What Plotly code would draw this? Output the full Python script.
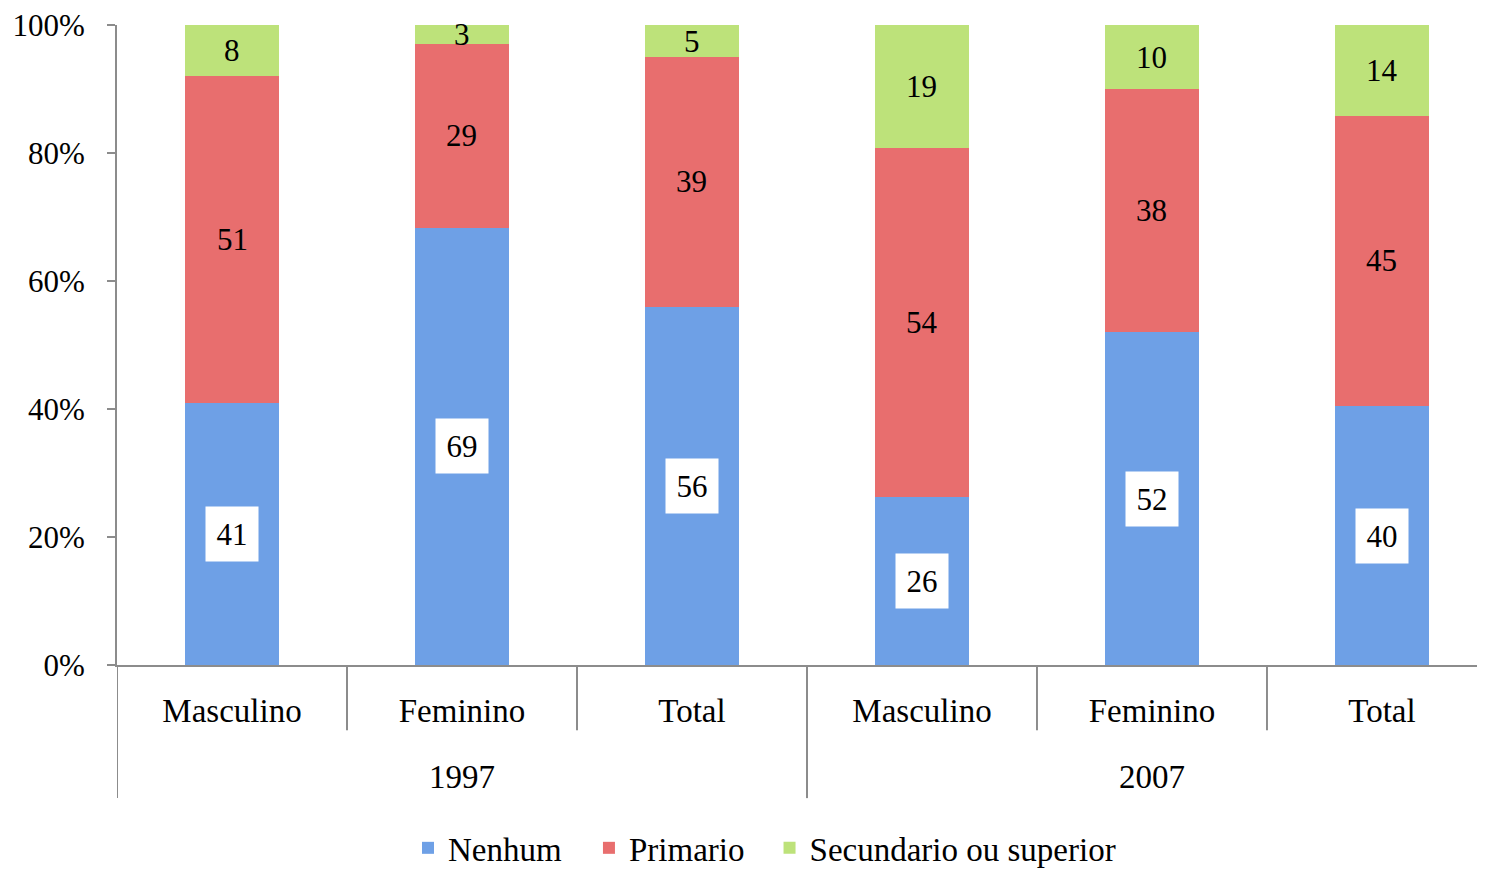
import plotly.graph_objects as go

years = ["1997", "1997", "1997", "2007", "2007", "2007"]
groups = ["Masculino", "Feminino", "Total", "Masculino", "Feminino", "Total"]
nenhum = [41, 69, 56, 26, 52, 40]
primario = [51, 29, 39, 54, 38, 45]
secundario = [8, 3, 5, 19, 10, 14]

series = [
    ("Nenhum", nenhum, "#6ea0e6", True),
    ("Primario", primario, "#e86e6e", False),
    ("Secundario ou superior", secundario, "#bde27a", False),
]
legend_x = [0.2127, 0.345, 0.477]

cats = [f"{y} {g}" for y, g in zip(years, groups)]

FONT = "Liberation Serif"
AXIS_COLOR = "#8c8c8c"
fig = go.Figure()
legend_names = ["legend", "legend2", "legend3"]
for (name, vals, color, _), lg in zip(series, legend_names):
    fig.add_trace(go.Bar(
        x=cats, y=vals, name=name, legend=lg,
        marker=dict(color=color, line=dict(width=0)),
        hoverinfo="skip",
    ))

# data labels at the centre of each (normalised) segment
totals = [a + b + c for a, b, c in zip(nenhum, primario, secundario)]
annotations = []
base = [0.0] * len(cats)
for name, vals, color, boxed in series:
    for i, (c, v, t) in enumerate(zip(cats, vals, totals)):
        share = v / t * 100
        ann = dict(
            x=c, y=base[i] + share / 2, xref="x", yref="y",
            text=str(v), showarrow=False,
            font=dict(family=FONT, size=31, color="black"),
        )
        if boxed:
            ann.update(bgcolor="white", borderpad=6, width=40, height=42)
        annotations.append(ann)
        base[i] += share

# year group labels and dividers
unique_years = []
for y in years:
    if y not in unique_years:
        unique_years.append(y)
shapes = []
for y in unique_years:
    idx = [i for i, yy in enumerate(years) if yy == y]
    mid = (idx[0] + idx[-1]) / 2
    annotations.append(dict(
        x=mid, y=-0.175, xref="x", yref="paper", text=y, showarrow=False,
        font=dict(family=FONT, size=33, color="black"), yanchor="middle",
    ))
    shapes.append(dict(type="line", xref="x", yref="paper",
                       x0=idx[0] - 0.5, x1=idx[0] - 0.5, y0=0, y1=-0.208,
                       line=dict(color=AXIS_COLOR, width=2)))
for i in range(1, len(cats)):
    if years[i] == years[i - 1]:
        shapes.append(dict(type="line", xref="x", yref="paper",
                           x0=i - 0.5, x1=i - 0.5, y0=0, y1=-0.102,
                           line=dict(color=AXIS_COLOR, width=2)))

legend_style = dict(orientation="h", xanchor="left", y=-0.242, yanchor="top",
                    font=dict(family=FONT, size=33), bgcolor="rgba(0,0,0,0)")
fig.update_layout(
    width=1477, height=861,
    barmode="stack", barnorm="percent", bargap=0.59,
    plot_bgcolor="white", paper_bgcolor="white",
    margin=dict(l=109, r=0, t=17, b=204, autoexpand=False),
    font=dict(family=FONT, size=31, color="black"),
    annotations=annotations, shapes=shapes,
    legend=dict(x=legend_x[0], **legend_style),
    legend2=dict(x=legend_x[1], **legend_style),
    legend3=dict(x=legend_x[2], **legend_style),
    showlegend=True,
)
fig.update_yaxes(
    range=[0, 100], dtick=20, ticksuffix="%", showgrid=False, zeroline=False,
    showline=True, linecolor=AXIS_COLOR, linewidth=2,
    ticks="outside", ticklen=8, tickwidth=2, tickcolor=AXIS_COLOR,
    ticklabelstandoff=16, ticklabeloverflow="allow",
    tickfont=dict(family=FONT, size=31), automargin=False,
)
# the last category slot runs slightly past the right edge of the picture
fig.update_xaxes(
    type="category", tickvals=cats, ticktext=groups, range=[-0.5, len(cats) - 0.552],
    showline=True, linecolor=AXIS_COLOR, linewidth=2, ticks="",
    ticklabelstandoff=15, tickfont=dict(family=FONT, size=33), showgrid=False,
    automargin=False,
)
fig.write_html("out.html")
